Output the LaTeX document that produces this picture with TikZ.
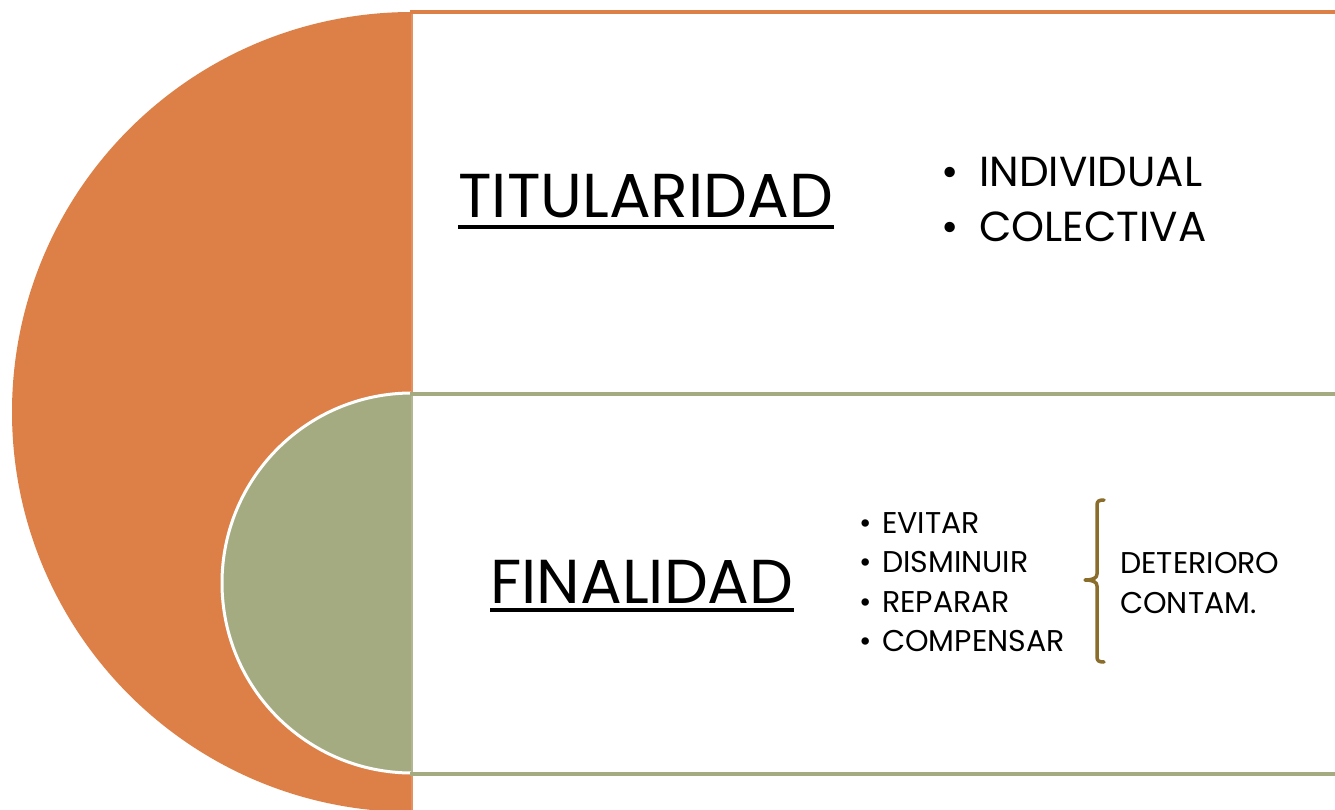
\documentclass[tikz,border=0pt]{standalone}
\usepackage{fontspec}
\setmainfont{Poppins}
\definecolor{orng}{HTML}{DD8047}
\definecolor{orngl}{HTML}{E39062}
\definecolor{grn}{HTML}{A5AB81}
\definecolor{grnl}{HTML}{B2B791}
\definecolor{brw}{HTML}{8A6C2B}
\tikzset{
  title/.style={anchor=base west, inner sep=0pt, font=\fontsize{62}{62}\selectfont},
  bigitem/.style={anchor=base west, inner sep=0pt, font=\fontsize{42}{42}\selectfont},
  smallitem/.style={anchor=base west, inner sep=0pt, font=\fontsize{30}{30}\selectfont},
  ul/.style={line width=4pt, black},
  band/.style={line width=4pt},
  bracestyle/.style={line width=3.5pt, brw, line cap=round, line join=round}
}
\begin{document}
\begin{tikzpicture}[x=1pt,y=-1pt]
\useasboundingbox (0,0) rectangle (1335,810);
\fill[white] (0,0) rectangle (1335,810);
% half discs
\begin{scope}
  \clip (0,0) rectangle (412,810);
  \fill[orng] (412,412) circle[radius=400];
  \fill[grn, draw=white, line width=3pt] (412,583) circle[radius=190];
\end{scope}
% vertical edge strips
\draw[orngl, line width=2pt] (412,12) -- (412,393);
\draw[grnl, line width=2pt] (412,393) -- (412,773);
\draw[orngl, line width=2pt] (412,773) -- (412,810);
% horizontal bands
\draw[band, orng] (410,12) -- (1335,12);
\draw[band, grn] (410,393.5) -- (1335,393.5);
\draw[band, grn] (410,773.5) -- (1335,773.5);
% titles
\node[title] (tit) at (458,218) {TITULARIDAD};
\draw[ul] ([yshift=-9pt]tit.base west) -- ([yshift=-9pt]tit.base east);
\node[title] (fin) at (490,603) {FINALIDAD};
\draw[ul] ([yshift=-7pt]fin.base west) -- ([yshift=-7pt]fin.base east);
% top list
\node[bigitem] (ind) at (979,187) {\llap{•\hspace{20pt}}INDIVIDUAL};
\node[bigitem] (col) at (979,242) {\llap{•\hspace{20pt}}COLECTIVA};
% bottom list
\node[smallitem] (evi) at (882,533) {\llap{•\hspace{10pt}}EVITAR};
\node[smallitem] (dis) at (882,572.5) {\llap{•\hspace{10pt}}DISMINUIR};
\node[smallitem] (rep) at (882,612) {\llap{•\hspace{10pt}}REPARAR};
\node[smallitem] (com) at (882,651.5) {\llap{•\hspace{10pt}}COMPENSAR};
% brace
\draw[bracestyle] (1104,500) .. controls (1099,500) and (1097,501) .. (1097,505) -- (1097,574) .. controls (1097,578) and (1093,580) .. (1085,580) .. controls (1093,580) and (1097,582) .. (1097,586) -- (1097,657) .. controls (1097,661) and (1099,662) .. (1104,662);
% right text
\node[smallitem] (det) at (1120,573) {DETERIORO};
\node[smallitem] (con) at (1120,613) {CONTAM.};
\end{tikzpicture}
\end{document}
